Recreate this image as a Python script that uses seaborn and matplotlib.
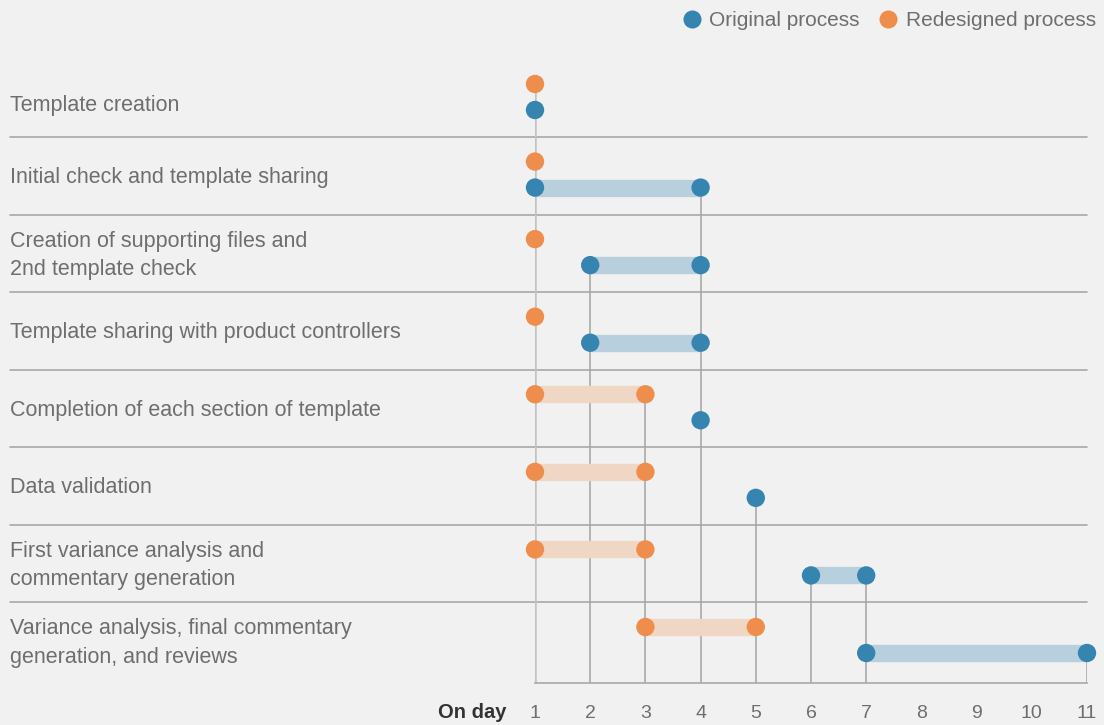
import numpy as np
import pandas as pd
import matplotlib
matplotlib.use("Agg")
import matplotlib.pyplot as plt
import matplotlib.transforms as mtransforms
from matplotlib.lines import Line2D
import seaborn as sns

# ---------------- data ----------------
stages = [
    "Template creation",
    "Initial check and template sharing",
    "Creation of supporting files and\n2nd template check",
    "Template sharing with product controllers",
    "Completion of each section of template",
    "Data validation",
    "First variance analysis and\ncommentary generation",
    "Variance analysis, final commentary\ngeneration, and reviews",
]
orig_start = [1, 1, 2, 2, 4, 5, 6, 7]
orig_end = [1, 4, 4, 4, 4, 5, 7, 11]
redes_start = [1, 1, 1, 1, 1, 1, 1, 3]
redes_end = [1, 1, 1, 1, 3, 3, 3, 5]
days = list(range(1, 12))
series_names = ["Original process", "Redesigned process"]

# ---------------- style ----------------
BG = "#f1f1f1"
BLUE = "#3585b0"
ORANGE = "#ef8e4c"
LBLUE = "#b8d0dd"
LORANGE = "#f0d6c4"
GRID = "#a8a8a8"
TXT = "#6e6e6e"
FONT = ["Liberation Sans", "DejaVu Sans"]

sns.set_theme(style="white")
plt.rcParams["font.family"] = FONT
plt.rcParams["figure.facecolor"] = BG
plt.rcParams["axes.facecolor"] = BG

W, H = 1104, 725
fig = plt.figure(figsize=(W / 100, H / 100), dpi=100)
fig.patch.set_facecolor(BG)

x0_px, x1_px, axis_px = 535, 1087, 683
ax = fig.add_axes([x0_px / W, (H - axis_px) / H, (x1_px - x0_px) / W, axis_px / H])
ax.set_facecolor(BG)

row_px = 77.57
top_px = 84
BLUE_OFF = 26 / row_px
ymax = (axis_px - top_px) / row_px
ymin = -top_px / row_px
ax.set_xlim(1, 11)
ax.set_ylim(ymax, ymin)

n = len(stages)

# long data frame for dots
recs = []
for i in range(n):
    for d in sorted({orig_start[i], orig_end[i]}):
        recs.append({"day": d, "y": i + BLUE_OFF, "process": series_names[0]})
    for d in sorted({redes_start[i], redes_end[i]}):
        recs.append({"day": d, "y": i, "process": series_names[1]})
df = pd.DataFrame(recs)

# vertical guide lines from top-most dot of each day down to the axis
for d in days:
    sub = df[df["day"] == d]
    if len(sub):
        col, lw = (("#c2c2c2", 1.8) if d == min(days) else ("#a4a4a4", 1.1))
        ax.vlines(d, sub["y"].min(), ymax, color=col, lw=lw, zorder=1)

# range bars
for i in range(n):
    if orig_end[i] != orig_start[i]:
        ax.hlines(i + BLUE_OFF, orig_start[i], orig_end[i], color=LBLUE, lw=12.5, zorder=2, clip_on=False)
    if redes_end[i] != redes_start[i]:
        ax.hlines(i, redes_start[i], redes_end[i], color=LORANGE, lw=12.5, zorder=2, clip_on=False)

sns.scatterplot(data=df, x="day", y="y", hue="process",
                palette={series_names[0]: BLUE, series_names[1]: ORANGE},
                s=175, linewidth=0, legend=False, ax=ax, zorder=3, clip_on=False)

# row separators and labels
blend = mtransforms.blended_transform_factory(ax.transAxes, ax.transData)
sep_left = (10 - x0_px) / (x1_px - x0_px)
for i in range(n - 1):
    y = i + 53 / row_px
    ax.plot([sep_left, 1.0], [y, y], transform=blend, color=GRID, lw=1.2, clip_on=False, zorder=0)
for i, lab in enumerate(stages):
    off = 21 if i == 0 else 16
    ax.text(sep_left, i + off / row_px, lab, transform=blend, ha="left", va="center",
            fontsize=15.5, color=TXT, linespacing=1.45)

# axis
for s in ["top", "right", "left"]:
    ax.spines[s].set_visible(False)
ax.spines["bottom"].set_color(GRID)
ax.spines["bottom"].set_linewidth(1.2)
ax.set_xticks(days)
ax.set_xticklabels([str(d) for d in days])
ax.set_yticks([])
ax.tick_params(axis="x", direction="in", length=4.5, width=1.2, color=GRID,
               pad=16, labelsize=14, labelcolor=TXT)
ax.set_xlabel("")
ax.set_ylabel("")
ax.text(-28 / (x1_px - x0_px), -(712 - axis_px) / axis_px, "On day", transform=ax.transAxes,
        ha="right", va="center", fontsize=14.5, fontweight="bold", color="#333333")

# legend
handles = [Line2D([0], [0], marker="o", lw=0, markersize=13, markerfacecolor=c, markeredgewidth=0)
           for c in (BLUE, ORANGE)]
leg = fig.legend(handles, series_names, loc="upper right", bbox_to_anchor=(1.0, 1.0 - 3 / H), ncol=2,
                 frameon=False, handletextpad=0.35, columnspacing=0.85, handlelength=1.0,
                 borderaxespad=0.0, fontsize=15)
for t in leg.get_texts():
    t.set_color(TXT)

fig.savefig("out.png", dpi=100, facecolor=BG)
